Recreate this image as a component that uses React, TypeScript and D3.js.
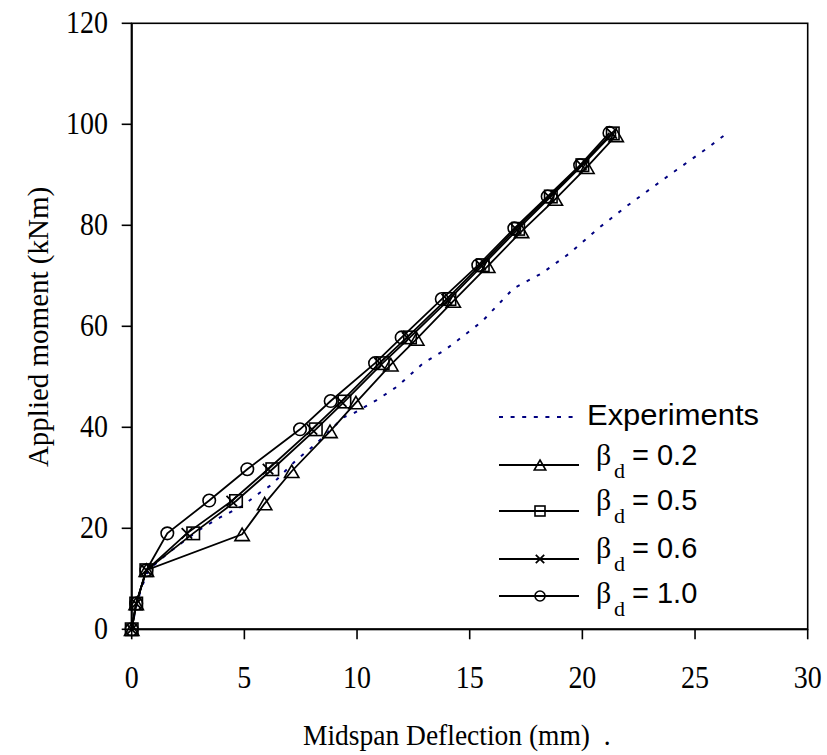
import React from "react";
import * as d3 from "d3";

const xTicks = [0, 5, 10, 15, 20, 25, 30];
const yTicks = [0, 20, 40, 60, 80, 100, 120];

const expDefl = [0, 0.15, 0.4, 0.75, 1.7, 3.0, 3.9, 4.9, 5.7, 6.2, 7.3, 8.2, 9.4, 9.85, 10.87, 11.76, 12.94, 13.9, 15.16, 15.6, 16.35, 16.94, 18.2, 19.45, 20.71, 21.97, 22.86, 24.19, 25.52, 26.41];
const expMom = [0, 3.5, 7.8, 11.8, 15.4, 19.7, 22.1, 24.4, 27.1, 28.6, 33.5, 36.8, 42.0, 42.8, 45.4, 48.0, 52.7, 55.3, 59.6, 61.2, 64.7, 67.5, 70.5, 74.5, 79.4, 83.8, 86.7, 91.0, 95.2, 98.2];

const b02Defl = [0, 0.2, 0.65, 4.9, 5.9, 7.1, 8.8, 9.95, 11.5, 12.65, 14.27, 15.8, 17.3, 18.8, 20.2, 21.5];
const b02Mom = [0, 5.1, 11.7, 18.8, 24.9, 31.3, 39.2, 44.9, 52.4, 57.5, 65.0, 71.9, 78.8, 85.2, 91.5, 97.8];

const b05Defl = [0, 0.2, 0.65, 2.73, 4.63, 6.24, 8.17, 9.44, 11.14, 12.35, 14.1, 15.58, 17.15, 18.6, 20.0, 21.35];
const b05Mom = [0, 5.1, 11.7, 19.0, 25.4, 31.7, 39.6, 45.1, 52.7, 57.8, 65.4, 72.1, 79.3, 85.7, 91.9, 98.2];

const b06Defl = [0, 0.2, 0.65, 2.45, 4.44, 6.05, 8.0, 9.3, 11.0, 12.22, 13.98, 15.48, 17.05, 18.52, 19.95, 21.3];
const b06Mom = [0, 5.1, 11.7, 19.0, 25.4, 31.7, 39.6, 45.1, 52.7, 57.8, 65.4, 72.1, 79.3, 85.7, 91.9, 98.2];

const b10Defl = [0, 0.2, 0.65, 1.58, 3.44, 5.13, 7.47, 8.83, 10.8, 11.98, 13.76, 15.38, 16.98, 18.46, 19.9, 21.2];
const b10Mom = [0, 5.1, 11.7, 19.0, 25.5, 31.7, 39.6, 45.2, 52.7, 57.8, 65.4, 72.1, 79.4, 85.7, 91.9, 98.3];

const legendLabels = ["0.2", "0.5", "0.6", "1.0"];

const W = 827;
const H = 755;
const x = d3.scaleLinear().domain([0, 30]).range([131.7, 807.7]);
const y = d3.scaleLinear().domain([0, 120]).range([629.3, 23.3]);

type Pt = [number, number];
const zip = (a: number[], b: number[]): Pt[] => a.map((v, i) => [v, b[i]]);

const line = d3
  .line<Pt>()
  .x((d) => x(d[0]))
  .y((d) => y(d[1]));

function Marker({ kind, cx, cy, s }: { kind: string; cx: number; cy: number; s: number }) {
  const st = { fill: "none", stroke: "#000", strokeWidth: 1.6 };
  if (kind === "tri") {
    const w = s * 1.15;
    const h = s;
    return (
      <path
        d={`M${cx},${cy - h / 2}L${cx + w / 2},${cy + h / 2}L${cx - w / 2},${cy + h / 2}Z`}
        {...st}
      />
    );
  }
  if (kind === "sq") {
    return <rect x={cx - s / 2} y={cy - s / 2} width={s} height={s} {...st} />;
  }
  if (kind === "x") {
    const a = s * 0.42;
    return (
      <path
        d={`M${cx - a},${cy - a}L${cx + a},${cy + a}M${cx - a},${cy + a}L${cx + a},${cy - a}`}
        {...st}
        strokeWidth={1.8}
      />
    );
  }
  return <circle cx={cx} cy={cy} r={s / 2} {...st} />;
}

const series = [
  { kind: "tri", pts: zip(b02Defl, b02Mom) },
  { kind: "sq", pts: zip(b05Defl, b05Mom) },
  { kind: "x", pts: zip(b06Defl, b06Mom) },
  { kind: "circ", pts: zip(b10Defl, b10Mom) },
];

export default function App() {
  const serif = "'Liberation Serif', 'Times New Roman', serif";
  const sans = "'Liberation Sans', Arial, sans-serif";
  const expPts = zip(expDefl, expMom);
  const legRows = [
    { kind: "tri", ly: 465, ty: 465 },
    { kind: "sq", ly: 511, ty: 510 },
    { kind: "x", ly: 559, ty: 558 },
    { kind: "circ", ly: 596, ty: 603 },
  ];
  return (
    <svg
      width={W}
      height={H}
      style={{ position: "absolute", left: 0, top: 0, background: "#fff" }}
    >
      <rect x={0} y={0} width={W} height={H} fill="#fff" />
      {/* plot frame */}
      <rect
        x={x(0)}
        y={y(120)}
        width={x(30) - x(0)}
        height={y(0) - y(120)}
        fill="none"
        stroke="#000"
        strokeWidth={1.6}
      />
      <line x1={x(0)} x2={x(0)} y1={y(120)} y2={y(0)} stroke="#000" strokeWidth={2} />
      <line x1={x(0)} x2={x(30)} y1={y(0)} y2={y(0)} stroke="#000" strokeWidth={2} />
      {/* y ticks */}
      {yTicks.map((t) => (
        <g key={"y" + t}>
          <line x1={x(0) - 10} x2={x(0)} y1={y(t)} y2={y(t)} stroke="#000" strokeWidth={1.6} />
          <text
            transform={`translate(108,${y(t) + 10}) scale(1,1.1)`}
            textAnchor="end"
            fontFamily={serif}
            fontSize={28}
          >
            {t}
          </text>
        </g>
      ))}
      {/* x ticks */}
      {xTicks.map((t) => (
        <g key={"x" + t}>
          <line x1={x(t)} x2={x(t)} y1={y(0)} y2={y(0) + 10} stroke="#000" strokeWidth={1.6} />
          <text
            transform={`translate(${x(t)},688) scale(1,1.1)`}
            textAnchor="middle"
            fontFamily={serif}
            fontSize={28}
          >
            {t}
          </text>
        </g>
      ))}
      {/* axis titles */}
      <text
        transform="translate(303,745) scale(1,1.1)"
        fontFamily={serif}
        fontSize={27.5}
        xmlSpace="preserve"
      >
        {"Midspan Deflection (mm)  ."}
      </text>
      <text
        transform={`translate(48,${327}) rotate(-90) scale(1,1.05)`}
        textAnchor="middle"
        fontFamily={serif}
        fontSize={29}
      >
        Applied moment (kNm)
      </text>

      {/* experiments */}
      <path
        d={line(expPts) || ""}
        fill="none"
        stroke="#000080"
        strokeWidth={2}
        strokeDasharray="3.5,8"
      />
      {/* model series */}
      {series.map((s, i) => (
        <g key={"s" + i}>
          <path d={line(s.pts) || ""} fill="none" stroke="#000" strokeWidth={1.8} />
          {s.pts.map((p, j) => (
            <Marker key={j} kind={s.kind} cx={x(p[0])} cy={y(p[1])} s={12.5} />
          ))}
        </g>
      ))}

      {/* legend */}
      <line x1={499} x2={576} y1={417} y2={417} stroke="#000080" strokeWidth={2} strokeDasharray="4,7.6" />
      <text
        x={587}
        y={425}
        fontFamily={sans}
        fontSize={29}
        textLength={172}
        lengthAdjust="spacingAndGlyphs"
      >
        Experiments
      </text>
      {legRows.map((r, i) => (
        <g key={"l" + i}>
          <line x1={499} x2={579} y1={r.ly} y2={r.ly} stroke="#000" strokeWidth={1.8} />
          <Marker kind={r.kind} cx={540} cy={r.ly} s={10} />
          <text y={r.ty} fontFamily={serif} fontSize={30} xmlSpace="preserve">
            <tspan x={596}>β</tspan>
            <tspan x={614} dy={13} fontSize={22}>
              d
            </tspan>
            <tspan x={632} dy={-13} fontFamily={sans} fontSize={29}>
              {"= " + legendLabels[i]}
            </tspan>
          </text>
        </g>
      ))}
    </svg>
  );
}
